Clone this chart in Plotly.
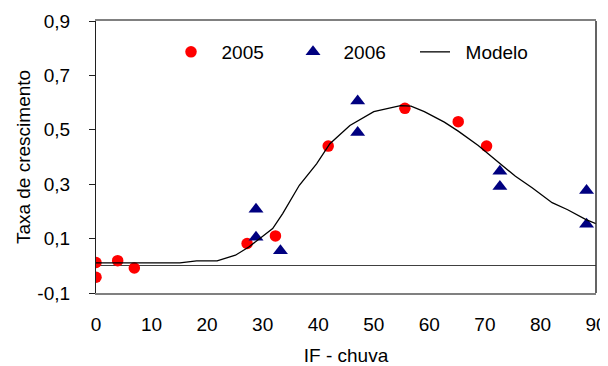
import plotly.graph_objects as go

# ---- data ----
x_2005 = [0, 0, 3.9, 6.9, 27.2, 32.3, 41.8, 55.6, 65.2, 70.3]
y_2005 = [0.012, -0.042, 0.019, -0.008, 0.082, 0.11, 0.44, 0.579, 0.53, 0.44]

x_2006 = [28.8, 28.8, 33.2, 47.1, 47.1, 72.7, 72.7, 88.3, 88.3]
y_2006 = [0.208, 0.105, 0.055, 0.606, 0.49, 0.348, 0.292, 0.277, 0.153]

x_model = [0, 15.1, 18.1, 21.8, 25.1, 27.5, 31.8, 33.6, 36.6, 39.7, 42.1, 45.7,
           50.0, 54.8, 56.7, 59.1, 62.7, 65.2, 68.8, 72.7, 75.5, 78.5, 82.1,
           84.9, 88.2, 90]
y_model = [0.011, 0.011, 0.018, 0.018, 0.039, 0.069, 0.137, 0.192, 0.296, 0.375,
           0.449, 0.516, 0.567, 0.589, 0.587, 0.567, 0.528, 0.495, 0.442, 0.378,
           0.329, 0.287, 0.232, 0.206, 0.17, 0.155]

y_tickvals = [-0.1, 0.1, 0.3, 0.5, 0.7, 0.9]
y_ticktext = ["-0,1", "0,1", "0,3", "0,5", "0,7", "0,9"]
x_tickvals = [0, 10, 20, 30, 40, 50, 60, 70, 80, 90]
x_ticktext = ["0", "10", "20", "30", "40", "50", "60", "70", "80", "90"]

names = ["\u00a0\u00a02005", "\u00a0\u00a02006", "\u00a0\u00a0Modelo"]

FONT = "Arial, Liberation Sans, sans-serif"

fig = go.Figure()
fig.add_trace(go.Scatter(
    x=x_2005, y=y_2005, mode="markers", name=names[0],
    marker=dict(symbol="circle", size=11.5, color="#FF0000", line=dict(width=0)),
))
fig.add_trace(go.Scatter(
    x=x_2006, y=y_2006, mode="markers", name=names[1],
    marker=dict(symbol="triangle-up", size=13, color="#000080", line=dict(width=0)),
))
fig.add_trace(go.Scatter(
    x=x_model, y=y_model, mode="lines", name=names[2],
    line=dict(color="#000000", width=1.3),
))

# the page body has an 8px margin, so the figure is drawn 8px in from the corner
fig.update_layout(
    width=600, height=358,
    margin=dict(l=88, r=12, t=13, b=73),
    paper_bgcolor="white", plot_bgcolor="white",
    font=dict(family=FONT, size=19, color="#000000"),
    showlegend=True,
    legend=dict(
        orientation="h", x=0.15, xanchor="left", y=0.886, yanchor="middle",
        bgcolor="rgba(0,0,0,0)", entrywidth=77, entrywidthmode="pixels",
        font=dict(family=FONT, size=19), traceorder="normal",
        itemclick=False,
    ),
    xaxis=dict(
        range=[0, 90], tickvals=x_tickvals, ticktext=x_ticktext,
        showgrid=False, zeroline=False, automargin=False,
        showline=True, linecolor="#808080", linewidth=1.5, mirror=True,
        ticks="", ticklabelstandoff=13,
        title=dict(text="IF - chuva", standoff=16, font=dict(size=19)),
    ),
    yaxis=dict(
        range=[-0.1, 0.9], tickvals=y_tickvals, ticktext=y_ticktext,
        showgrid=False, automargin=False,
        zeroline=True, zerolinecolor="#404040", zerolinewidth=1,
        showline=True, linecolor="#202020", linewidth=1.2, mirror=False,
        ticks="outside", ticklen=6, tickcolor="#202020", tickwidth=1,
        ticklabelstandoff=15,
        title=dict(text="Taxa de crescimento", standoff=1, font=dict(size=19)),
    ),
    shapes=[dict(type="line", xref="paper", yref="paper", x0=1, x1=1, y0=0, y1=1,
                 line=dict(color="#303030", width=1.5), layer="above")],
)

fig.write_html("out.html")
